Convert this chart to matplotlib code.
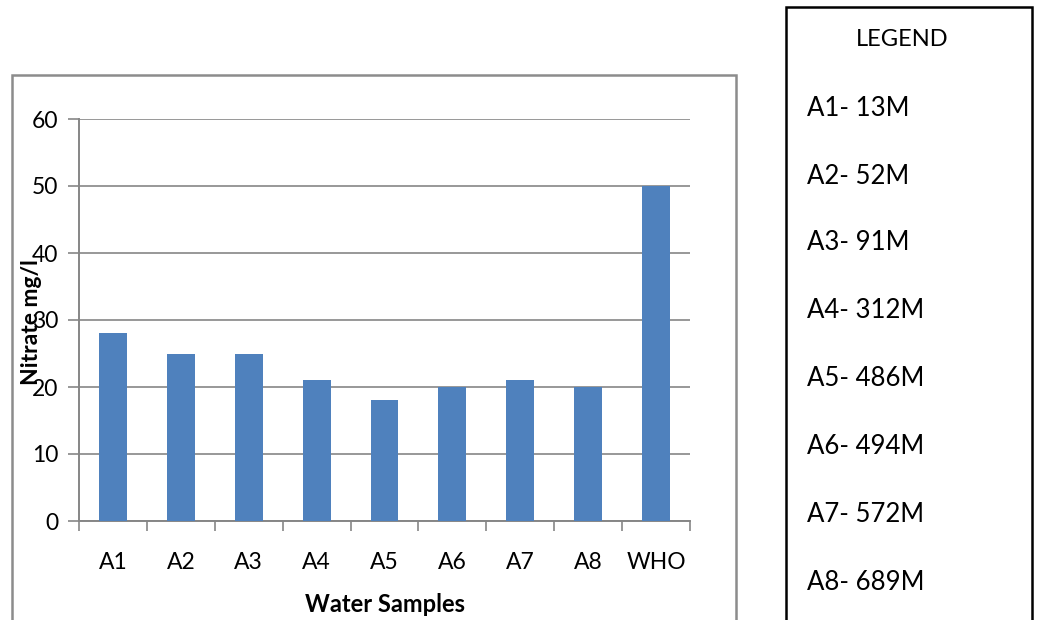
import matplotlib.pyplot as plt
from matplotlib.patches import Rectangle

categories = ["A1", "A2", "A3", "A4", "A5", "A6", "A7", "A8", "WHO"]
nitrate = [28, 25, 25, 21, 18, 20, 21, 20, 50]
y_ticks = [0, 10, 20, 30, 40, 50, 60]
legend_title = "LEGEND"
legend_entries = ["A1- 13M", "A2- 52M", "A3- 91M", "A4- 312M",
                  "A5- 486M", "A6- 494M", "A7- 572M", "A8- 689M"]

plt.rcParams["font.family"] = ["Lato", "DejaVu Sans"]

W, H = 1039, 620
fig = plt.figure(figsize=(W / 100, H / 100), dpi=100)
fig.patch.set_facecolor("white")

def fx(px):
    return px / W

def fy(py):
    return 1 - py / H

grid_c = "#868686"

# outer chart frame (bottom edge runs off the page)
fig.patches.append(Rectangle((fx(12), fy(640)), fx(736) - fx(12), fy(75) - fy(640),
                             transform=fig.transFigure, fill=False,
                             edgecolor="#8c8c8c", linewidth=1.8))

# legend box
fig.patches.append(Rectangle((fx(786), fy(640)), fx(1032) - fx(786), fy(7) - fy(640),
                             transform=fig.transFigure, fill=False,
                             edgecolor="black", linewidth=1.8))
fig.text(fx(902), fy(40), legend_title, ha="center", va="center", fontsize=17)
entry_y = [109, 177, 243, 311, 379, 446, 514, 582]
for txt, yy in zip(legend_entries, entry_y):
    fig.text(fx(807), fy(yy), txt, ha="left", va="center", fontsize=18.5)

# plot area
ax = fig.add_axes([fx(79), fy(521), fx(690) - fx(79), fy(119) - fy(521)])
x = list(range(len(categories)))
ax.bar(x, nitrate, width=0.41, color="#4f81bd", zorder=3)
ax.set_xlim(-0.5, len(categories) - 0.5)
ax.set_ylim(0, 60)
ax.set_yticks(y_ticks)
ax.set_yticklabels([str(v) for v in y_ticks], fontsize=16.5)
ax.yaxis.grid(True, color=grid_c, linewidth=1.2, zorder=0)
ax.set_axisbelow(True)

for s in ["top", "right"]:
    ax.spines[s].set_visible(False)
for s in ["left", "bottom"]:
    ax.spines[s].set_color(grid_c)
    ax.spines[s].set_linewidth(1.4)

ax.tick_params(axis="y", length=8, width=1.2, color=grid_c, pad=7)
ax.set_xticks([i - 0.5 for i in range(len(categories) + 1)], minor=False)
ax.set_xticklabels([])
ax.tick_params(axis="x", which="major", length=7, width=1.2, color=grid_c, direction="out")
ax.set_xticks(x, minor=True)
ax.set_xticklabels(categories, minor=True, fontsize=16.5)
ax.tick_params(axis="x", which="minor", length=0, pad=22)

fig.text(fx(385), fy(604), "Water Samples", ha="center", va="center",
         fontsize=17, fontweight="bold")
fig.text(fx(31), fy(322), "Nitrate mg/l", ha="center", va="center",
         rotation=90, fontsize=16.5, fontweight="bold")

fig.savefig("out.png", dpi=100, facecolor="white")
